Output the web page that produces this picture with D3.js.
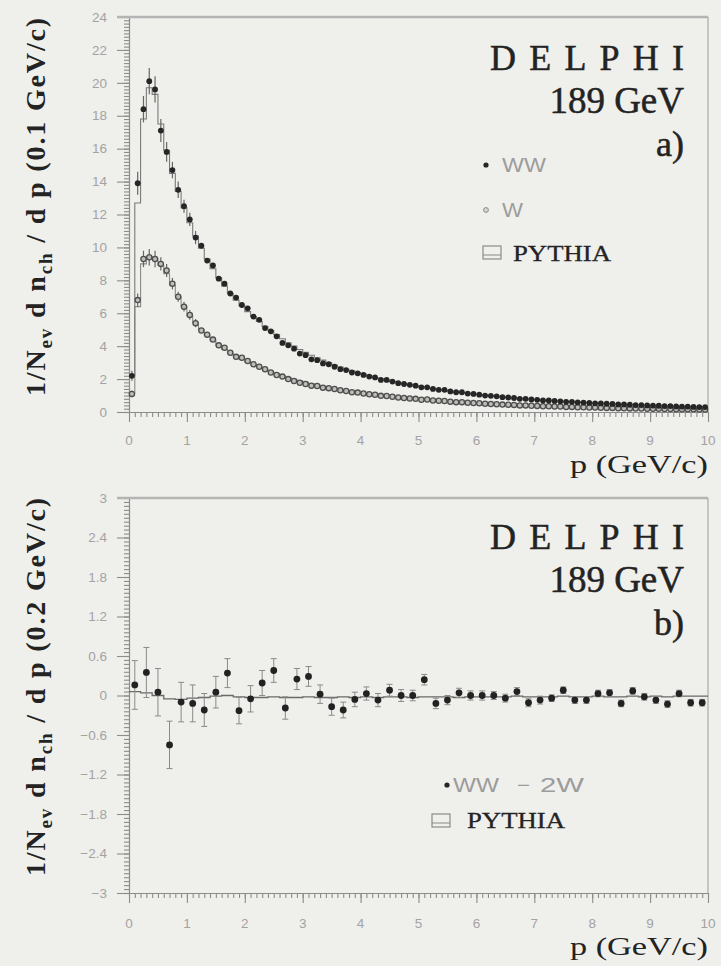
<!DOCTYPE html>
<html lang="en">
<head>
<meta charset="utf-8">
<title>DELPHI 189 GeV charged particle momentum</title>
<script src="https://cdn.jsdelivr.net/npm/d3@7"></script>
<style>
  body { margin: 0; background: #efefeb; }
  svg { display: block; }
  .tlab { font-family: "Liberation Sans", Arial, sans-serif; font-size: 13.5px; fill: #a3a3a3; }
  .leg { font-family: "Liberation Sans", Arial, sans-serif; font-size: 20px; fill: #9c9c9c; }
</style>
</head>
<body>
<script>
  // DATA
  // panel a) : 1/N dn/dp in 0.1 GeV/c bins, p from 0 to 10
  var binA = 0.1;
  var ww = [
    2.2, 13.9, 18.4, 20.1, 19.6, 17.1, 15.8, 14.7, 13.5, 12.5,
    11.7, 10.6, 10.1, 9.2, 8.9, 8.1, 7.8, 7.2, 6.95, 6.5,
    6.3, 5.8, 5.6, 5.1, 4.9, 4.6, 4.2, 4.05, 3.85, 3.55,
    3.45, 3.2, 3.15, 2.95, 2.9, 2.75, 2.6, 2.55, 2.4, 2.35,
    2.25, 2.15, 2.1, 1.95, 1.95, 1.85, 1.75, 1.7, 1.65, 1.6,
    1.5, 1.5, 1.4, 1.35, 1.35, 1.25, 1.2, 1.2, 1.12, 1.1,
    1.05, 1.0, 0.98, 0.95, 0.9, 0.88, 0.85, 0.8, 0.8, 0.76,
    0.74, 0.7, 0.7, 0.67, 0.65, 0.62, 0.62, 0.58, 0.57, 0.55,
    0.53, 0.52, 0.5, 0.49, 0.46, 0.46, 0.44, 0.42, 0.42, 0.4,
    0.39, 0.38, 0.36, 0.36, 0.34, 0.33, 0.33, 0.31, 0.3, 0.3
  ];
  var w = [
    1.1, 6.8, 9.3, 9.4, 9.3, 9.0, 8.6, 7.8, 7.0, 6.4,
    5.9, 5.4, 4.95, 4.7, 4.4, 4.05, 3.9, 3.6, 3.35, 3.3,
    3.1, 2.9, 2.75, 2.6, 2.4, 2.25, 2.15, 2.0, 1.88, 1.78,
    1.7, 1.6, 1.58, 1.48, 1.45, 1.4, 1.32, 1.28, 1.2, 1.18,
    1.12, 1.08, 1.05, 0.98, 0.97, 0.93, 0.88, 0.85, 0.82, 0.8,
    0.74, 0.76, 0.7, 0.68, 0.67, 0.63, 0.6, 0.6, 0.56, 0.55,
    0.53, 0.5, 0.49, 0.47, 0.45, 0.44, 0.43, 0.4, 0.4, 0.38,
    0.37, 0.35, 0.35, 0.33, 0.33, 0.31, 0.31, 0.29, 0.29, 0.27,
    0.27, 0.26, 0.25, 0.25, 0.23, 0.23, 0.22, 0.21, 0.21, 0.2,
    0.2, 0.19, 0.18, 0.18, 0.17, 0.17, 0.16, 0.16, 0.15, 0.15
  ];
  // errors only visible in the first bins, the rest hide under the markers
  var errWW = [0.3, 0.7, 0.8, 0.8, 0.8, 0.7, 0.6, 0.5, 0.5, 0.4, 0.4, 0.4];
  var errW  = [0.2, 0.4, 0.5, 0.5, 0.5, 0.4, 0.4, 0.35, 0.3, 0.3, 0.3, 0.25];
  var pythiaWW = [
    2.2, 12.7, 17.8, 19.7, 19.3, 17.5, 15.9, 14.5, 13.4, 12.4,
    11.5, 10.7, 9.95, 9.3, 8.7, 8.15, 7.65, 7.2, 6.8, 6.45,
    6.1, 5.8, 5.5, 5.2, 4.95, 4.7, 4.45, 4.2, 4.0, 3.8,
    3.62, 3.45, 3.3, 3.15, 3.0, 2.86, 2.73, 2.6, 2.5, 2.4,
    2.3, 2.2, 2.1, 2.02, 1.94, 1.86, 1.79, 1.72, 1.65, 1.59,
    1.53, 1.47, 1.42, 1.37, 1.32, 1.27, 1.22, 1.18, 1.14, 1.1,
    1.06, 1.02, 0.99, 0.95, 0.92, 0.89, 0.86, 0.83, 0.8, 0.78,
    0.75, 0.73, 0.7, 0.68, 0.66, 0.64, 0.62, 0.6, 0.58, 0.56,
    0.54, 0.52, 0.51, 0.49, 0.48, 0.46, 0.45, 0.43, 0.42, 0.41,
    0.39, 0.38, 0.37, 0.36, 0.35, 0.34, 0.33, 0.32, 0.31, 0.3
  ];
  var pythiaW = [
    1.1, 6.4, 9.0, 9.45, 9.3, 8.9, 8.4, 7.7, 7.0, 6.4,
    5.85, 5.4, 5.0, 4.65, 4.35, 4.05, 3.8, 3.57, 3.37, 3.2,
    3.03, 2.88, 2.73, 2.58, 2.45, 2.33, 2.2, 2.1, 1.99, 1.89,
    1.8, 1.72, 1.64, 1.56, 1.49, 1.42, 1.36, 1.3, 1.24, 1.19,
    1.14, 1.09, 1.05, 1.01, 0.97, 0.93, 0.89, 0.86, 0.83, 0.8,
    0.77, 0.74, 0.71, 0.69, 0.66, 0.64, 0.62, 0.6, 0.58, 0.56,
    0.54, 0.52, 0.5, 0.49, 0.47, 0.46, 0.44, 0.43, 0.41, 0.4,
    0.39, 0.37, 0.36, 0.35, 0.34, 0.33, 0.32, 0.31, 0.3, 0.29,
    0.28, 0.27, 0.26, 0.26, 0.25, 0.24, 0.23, 0.23, 0.22, 0.21,
    0.21, 0.2, 0.19, 0.19, 0.18, 0.18, 0.17, 0.17, 0.16, 0.16
  ];

  // panel b) : WW - 2W in 0.2 GeV/c bins
  var binB = 0.2;
  var diff = [
    0.16, 0.35, 0.05, -0.75, -0.10, -0.12, -0.22, 0.05, 0.34, -0.23,
    -0.05, 0.19, 0.38, -0.19, 0.25, 0.29, 0.02, -0.17, -0.22, -0.06,
    0.03, -0.07, 0.08, 0.0, 0.0, 0.24, -0.12, -0.07, 0.04, 0.0,
    0.0, 0.0, -0.04, 0.06, -0.11, -0.07, -0.04, 0.08, -0.07, -0.07,
    0.03, 0.04, -0.12, 0.07, -0.02, -0.07, -0.13, 0.03, -0.11, -0.11
  ];
  var errDiff = [
    0.37, 0.38, 0.36, 0.36, 0.30, 0.28, 0.25, 0.24, 0.22, 0.20,
    0.20, 0.19, 0.18, 0.17, 0.16, 0.15, 0.14, 0.13, 0.12, 0.11,
    0.10, 0.10, 0.09, 0.09, 0.08, 0.08, 0.08, 0.07, 0.07, 0.07,
    0.07, 0.06, 0.06, 0.06, 0.06, 0.06, 0.05, 0.05, 0.05, 0.05,
    0.05, 0.05, 0.05, 0.05, 0.05, 0.05, 0.05, 0.05, 0.05, 0.05
  ];
  var pythiaDiff = [
    0.06, 0.04, 0.0, -0.05, -0.06, -0.04, -0.03, -0.01, 0.0, -0.02,
    -0.03, -0.03, -0.02, -0.03, -0.03, -0.02, -0.03, -0.03, -0.02, -0.03,
    -0.02, -0.03, -0.02, -0.02, -0.03, -0.02, -0.02, -0.02, -0.03, -0.02,
    -0.02, -0.02, -0.02, -0.01, -0.02, -0.02, -0.02, -0.01, -0.02, -0.02,
    -0.01, -0.02, -0.02, -0.01, -0.02, -0.01, -0.02, -0.01, -0.01, -0.01
  ];

  var xTicksMajor = [0, 1, 2, 3, 4, 5, 6, 7, 8, 9, 10];
  var yTicksA = [0, 2, 4, 6, 8, 10, 12, 14, 16, 18, 20, 22, 24];
  var yTicksB = [-3, -2.4, -1.8, -1.2, -0.6, 0, 0.6, 1.2, 1.8, 2.4, 3];

  // CONFIG
  var width = 721, height = 966;
  var serifFont = "'Liberation Serif', 'DejaVu Serif', 'Times New Roman', serif";
  var svg = d3.select("body").append("svg")
      .attr("width", width)
      .attr("height", height);

  var x = d3.scaleLinear().domain([0, 10]).range([129, 708]);
  var yA = d3.scaleLinear().domain([0, 24]).range([412, 17]);
  var yB = d3.scaleLinear().domain([-3, 3]).range([893, 498]);

  var axisCol = "#8c8c8c";

  function frame(y, labelBase, minorStep, fmt, ticks) {
    var g = svg.append("g");
    var y0 = y.range()[0], y1 = y.range()[1];

    // x axis: minor ticks every 0.1, major every 1
    g.append("g").attr("transform", `translate(0,${y0})`)
      .call(d3.axisBottom(x).tickValues(d3.range(0, 10.001, 0.1)).tickSize(5).tickSizeOuter(0).tickFormat(""));
    g.append("g").attr("transform", `translate(0,${y0})`)
      .call(d3.axisBottom(x).tickValues(xTicksMajor).tickSize(10).tickSizeOuter(0).tickFormat(""));
    g.selectAll(".tlx").data(xTicksMajor).enter().append("text")
      .attr("class", "tlab")
      .attr("x", (d) => x(d))
      .attr("y", labelBase)
      .attr("text-anchor", "middle")
      .text((d) => d);

    // y axis
    var dom = y.domain();
    g.append("g").attr("transform", `translate(${x(0)},0)`)
      .call(d3.axisLeft(y).tickValues(d3.range(dom[0], dom[1] + 1e-6, minorStep)).tickSize(5).tickSizeOuter(0).tickFormat(""));
    g.append("g").attr("transform", `translate(${x(0)},0)`)
      .call(d3.axisLeft(y).tickValues(ticks).tickSize(12).tickSizeOuter(0).tickFormat(""));
    g.selectAll(".tly").data(ticks).enter().append("text")
      .attr("class", "tlab")
      .attr("x", 107)
      .attr("y", (d) => y(d))
      .attr("dy", "0.35em")
      .attr("text-anchor", "end")
      .text(fmt);

    g.selectAll(".domain, .tick line").attr("stroke", axisCol).attr("stroke-width", 1.1);

    // top and right border
    g.append("line").attr("x1", 117).attr("x2", 708).attr("y1", y1).attr("y2", y1)
      .attr("stroke", "#b4b4b4").attr("stroke-width", 2.5);
    g.append("line").attr("x1", 708).attr("x2", 708).attr("y1", y1).attr("y2", y0)
      .attr("stroke", "#a8a8a8").attr("stroke-width", 1.2);
  }

  frame(yA, 445, 0.2, (d) => d, yTicksA);
  frame(yB, 928, 0.06, (d) => d === 0 ? "0" : d3.format(".1~f")(d).replace("-", "\u2212"), yTicksB);

  function histPath(vals, bw, y) {
    var pts = vals.map((v, i) => [i * bw, v]);
    pts.push([vals.length * bw, vals[vals.length - 1]]);
    return d3.line().x((d) => x(d[0])).y((d) => y(d[1])).curve(d3.curveStepAfter)(pts);
  }

  // panel a histograms
  svg.append("path").attr("d", histPath(pythiaW, binA, yA))
    .attr("fill", "none").attr("stroke", "#8a8a8a").attr("stroke-width", 1.1);
  svg.append("path").attr("d", histPath(pythiaWW, binA, yA))
    .attr("fill", "none").attr("stroke", "#7a7a7a").attr("stroke-width", 1.1);

  // error bars for the first bins
  var ebA = svg.append("g").attr("stroke", "#666").attr("stroke-width", 1.2);
  ebA.selectAll(".eww").data(errWW).enter().append("line")
    .attr("x1", (e, i) => x((i + 0.5) * binA)).attr("x2", (e, i) => x((i + 0.5) * binA))
    .attr("y1", (e, i) => yA(ww[i] - e)).attr("y2", (e, i) => yA(ww[i] + e));
  ebA.selectAll(".ew").data(errW).enter().append("line")
    .attr("x1", (e, i) => x((i + 0.5) * binA)).attr("x2", (e, i) => x((i + 0.5) * binA))
    .attr("y1", (e, i) => yA(w[i] - e)).attr("y2", (e, i) => yA(w[i] + e));

  svg.append("g").selectAll("circle").data(w).enter().append("circle")
    .attr("cx", (d, i) => x((i + 0.5) * binA))
    .attr("cy", (d) => yA(d))
    .attr("r", 2.6)
    .attr("fill", "#bdbdb9")
    .attr("stroke", "#4e4e4e")
    .attr("stroke-width", 1.3);

  svg.append("g").selectAll("circle").data(ww).enter().append("circle")
    .attr("cx", (d, i) => x((i + 0.5) * binA))
    .attr("cy", (d) => yA(d))
    .attr("r", 2.9)
    .attr("fill", "#262626");

  // panel b
  svg.append("path").attr("d", histPath(pythiaDiff, binB, yB))
    .attr("fill", "none").attr("stroke", "#6a6a6a").attr("stroke-width", 1.3);

  var ebB = svg.append("g").attr("stroke", "#8a8a8a").attr("stroke-width", 1);
  ebB.selectAll(".v").data(errDiff).enter().append("line")
    .attr("x1", (e, i) => x((i + 0.5) * binB)).attr("x2", (e, i) => x((i + 0.5) * binB))
    .attr("y1", (e, i) => yB(diff[i] - e)).attr("y2", (e, i) => yB(diff[i] + e));
  [-1, 1].forEach(function (s) {
    ebB.selectAll(".c" + s).data(errDiff).enter().append("line")
      .attr("x1", (e, i) => x((i + 0.5) * binB) - 3).attr("x2", (e, i) => x((i + 0.5) * binB) + 3)
      .attr("y1", (e, i) => yB(diff[i] + s * e)).attr("y2", (e, i) => yB(diff[i] + s * e));
  });
  svg.append("g").selectAll("circle").data(diff).enter().append("circle")
    .attr("cx", (d, i) => x((i + 0.5) * binB))
    .attr("cy", (d) => yB(d))
    .attr("r", 3.4)
    .attr("fill", "#222");

  // TEXT
  function serifText(size) {
    return svg.append("text")
      .attr("font-family", serifFont)
      .attr("font-size", size)
      .attr("fill", "#232323");
  }

  function fitWidth(t, target) {
    var len = t.node().getComputedTextLength();
    var n = t.text().length;
    t.style("letter-spacing", ((target - len) / n) + "px");
  }

  function yTitle(cy, bins) {
    var t = serifText(28)
      .attr("transform", `translate(45,${cy}) rotate(-90)`)
      .attr("text-anchor", "middle")
      .attr("font-weight", "bold");
    t.append("tspan").text("1/N");
    t.append("tspan").attr("dy", 7).attr("font-size", 19).text("ev");
    t.append("tspan").attr("dy", -7).text(" d n");
    t.append("tspan").attr("dy", 7).attr("font-size", 19).text("ch");
    t.append("tspan").attr("dy", -7).text(" / d p (" + bins + " GeV/c)");
    fitWidth(t, 380);
  }
  yTitle(206, "0.1");
  yTitle(686, "0.2");

  function xTitle(base) {
    serifText(26)
      .attr("x", 570).attr("y", base)
      .attr("textLength", 138).attr("lengthAdjust", "spacingAndGlyphs")
      .text("p (GeV/c)");
  }
  xTitle(473);
  xTitle(955);

  function label(b0, tag) {
    serifText(36)
      .attr("x", 490).attr("y", b0)
      .attr("stroke", "#232323").attr("stroke-width", 0.5)
      .attr("textLength", 194).attr("lengthAdjust", "spacing")
      .text("DELPHI");
    serifText(37)
      .attr("x", 684).attr("y", b0 + 43)
      .attr("stroke", "#232323").attr("stroke-width", 0.5)
      .attr("text-anchor", "end")
      .text("189 GeV");
    serifText(36)
      .attr("x", 684).attr("y", b0 + 86)
      .attr("stroke", "#232323").attr("stroke-width", 0.5)
      .attr("text-anchor", "end")
      .text(tag);
  }
  label(70, "a)");
  label(549, "b)");

  // legends
  function legText(str, x0, base, len) {
    var t = svg.append("text").attr("class", "leg").attr("x", x0).attr("y", base).text(str);
    if (len) t.attr("textLength", len).attr("lengthAdjust", "spacingAndGlyphs");
    return t;
  }
  svg.append("circle").attr("cx", 486).attr("cy", 165).attr("r", 2.6).attr("fill", "#262626");
  legText("WW", 502, 172, 44);
  svg.append("circle").attr("cx", 486).attr("cy", 210).attr("r", 2.4)
    .attr("fill", "#d8d8d4").attr("stroke", "#8a8a8a");
  legText("W", 502, 217, 21);

  function pythiaKey(bx, by, tx, base) {
    svg.append("rect").attr("x", bx).attr("y", by).attr("width", 18).attr("height", 13)
      .attr("fill", "none").attr("stroke", "#8a8a8a").attr("stroke-width", 1.2);
    svg.append("line").attr("x1", bx).attr("x2", bx + 18).attr("y1", by + 9).attr("y2", by + 9)
      .attr("stroke", "#8a8a8a").attr("stroke-width", 1);
    serifText(23).attr("x", tx).attr("y", base)
      .attr("stroke", "#232323").attr("stroke-width", 0.3)
      .attr("textLength", 98).attr("lengthAdjust", "spacingAndGlyphs")
      .text("PYTHIA");
  }
  pythiaKey(483, 246, 513, 261);

  svg.append("circle").attr("cx", 447).attr("cy", 785).attr("r", 2.6).attr("fill", "#262626");
  legText("WW", 453, 792, 46);
  legText("\u2212", 517, 792, 13);
  legText("2W", 540, 792, 44);
  pythiaKey(432, 814, 467, 828);
</script>
</body>
</html>
